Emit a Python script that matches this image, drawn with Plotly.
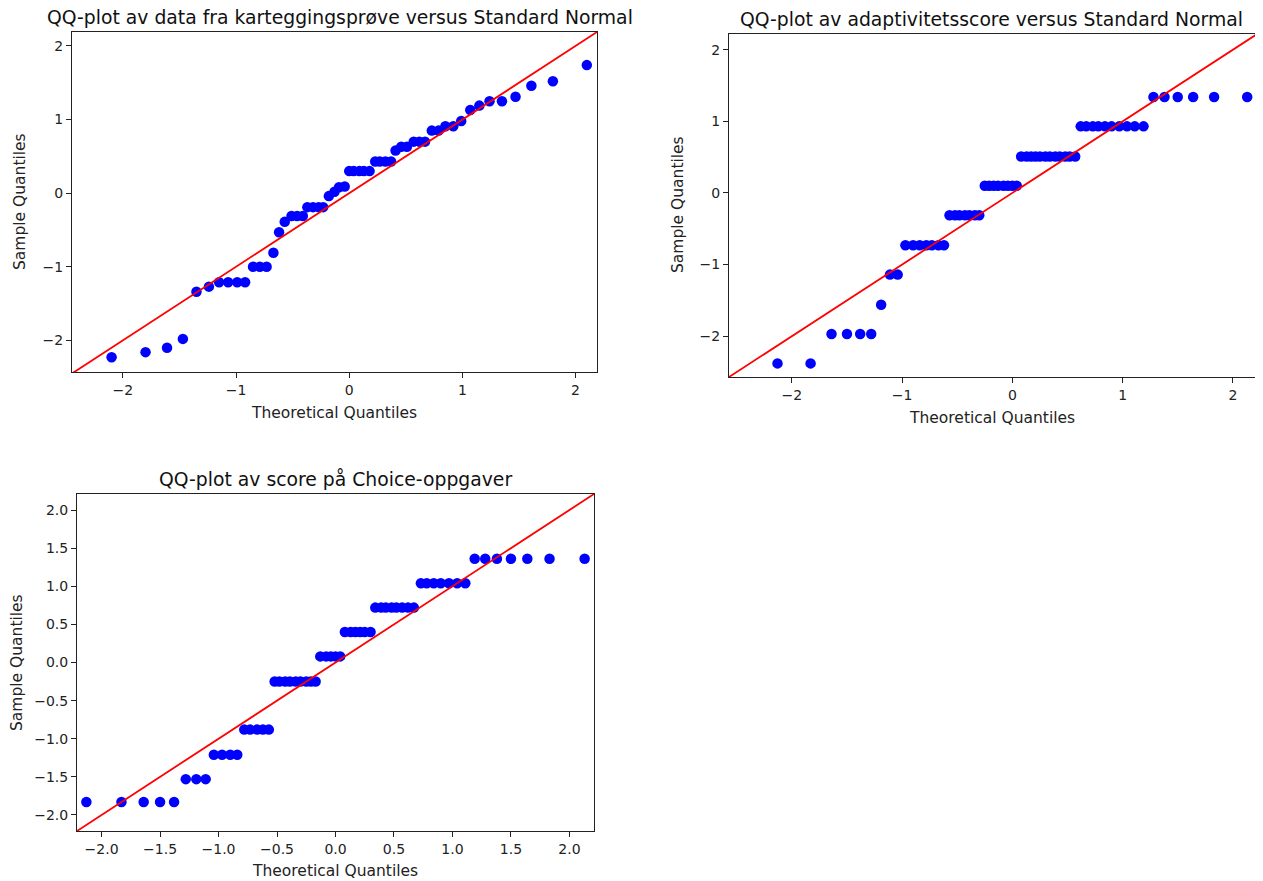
import plotly.graph_objects as go

# ---------------- data ----------------
titles = [
    "QQ-plot av data fra karteggingsprøve versus Standard Normal",
    "QQ-plot av adaptivitetsscore versus Standard Normal",
    "QQ-plot av score på Choice-oppgaver",
]
x_label = "Theoretical Quantiles"
y_label = "Sample Quantiles"

# theoretical quantiles, plot 1 (55 points)
theo_55 = [-2.10, -1.80, -1.61, -1.47, -1.35, -1.24, -1.15, -1.07, -0.99, -0.92,
           -0.85, -0.79, -0.73, -0.67, -0.62, -0.57, -0.51, -0.46, -0.41, -0.37,
           -0.32, -0.27, -0.23, -0.18, -0.13, -0.09, -0.04, 0.00, 0.04, 0.09,
           0.13, 0.18, 0.23, 0.27, 0.32, 0.37, 0.41, 0.46, 0.51, 0.57,
           0.62, 0.67, 0.73, 0.79, 0.85, 0.92, 0.99, 1.07, 1.15, 1.24,
           1.35, 1.47, 1.61, 1.80, 2.10]
sample_1 = [-2.23, -2.16, -2.10, -1.98, -1.34, -1.27, -1.21, -1.21, -1.21, -1.21,
            -1.00, -1.00, -1.00, -0.81, -0.53, -0.39, -0.31, -0.31, -0.31, -0.19,
            -0.19, -0.19, -0.19, -0.04, 0.02, 0.08, 0.09, 0.30, 0.30, 0.30,
            0.30, 0.30, 0.43, 0.43, 0.43, 0.43, 0.58, 0.63, 0.63, 0.70,
            0.70, 0.70, 0.85, 0.85, 0.91, 0.91, 0.98, 1.13, 1.19, 1.25,
            1.25, 1.31, 1.46, 1.52, 1.74]

# theoretical quantiles, plots 2 and 3 (59 points)
theo_59 = [-2.13, -1.83, -1.64, -1.50, -1.38, -1.28, -1.19, -1.11, -1.04, -0.97,
           -0.90, -0.84, -0.78, -0.73, -0.67, -0.62, -0.57, -0.52, -0.48, -0.43,
           -0.39, -0.34, -0.30, -0.25, -0.21, -0.17, -0.13, -0.08, -0.04, 0.00,
           0.04, 0.08, 0.13, 0.17, 0.21, 0.25, 0.30, 0.34, 0.39, 0.43,
           0.48, 0.52, 0.57, 0.62, 0.67, 0.73, 0.78, 0.84, 0.90, 0.97,
           1.04, 1.11, 1.19, 1.28, 1.38, 1.50, 1.64, 1.83, 2.13]
sample_2 = [-2.38, -2.38,
            -1.97, -1.97, -1.97, -1.97,
            -1.56,
            -1.14, -1.14,
            -0.73, -0.73, -0.73, -0.73, -0.73, -0.73, -0.73,
            -0.31, -0.31, -0.31, -0.31, -0.31, -0.31, -0.31,
            0.10, 0.10, 0.10, 0.10, 0.10, 0.10, 0.10, 0.10,
            0.51, 0.51, 0.51, 0.51, 0.51, 0.51, 0.51, 0.51, 0.51, 0.51, 0.51, 0.51,
            0.93, 0.93, 0.93, 0.93, 0.93, 0.93, 0.93, 0.93, 0.93, 0.93,
            1.34, 1.34, 1.34, 1.34, 1.34, 1.34]
sample_3 = [-1.83, -1.83, -1.83, -1.83, -1.83,
            -1.53, -1.53, -1.53,
            -1.21, -1.21, -1.21, -1.21,
            -0.88, -0.88, -0.88, -0.88, -0.88,
            -0.25, -0.25, -0.25, -0.25, -0.25, -0.25, -0.25, -0.25, -0.25,
            0.08, 0.08, 0.08, 0.08, 0.08,
            0.40, 0.40, 0.40, 0.40, 0.40, 0.40,
            0.72, 0.72, 0.72, 0.72, 0.72, 0.72, 0.72, 0.72,
            1.04, 1.04, 1.04, 1.04, 1.04, 1.04, 1.04,
            1.36, 1.36, 1.36, 1.36, 1.36, 1.36, 1.36]

# axis ranges
x_range_1 = [-2.45, 2.19]
y_range_1 = [-2.43, 2.19]
x_range_2 = [-2.57, 2.21]
y_range_2 = [-2.57, 2.22]
x_range_3 = [-2.21, 2.21]
y_range_3 = [-2.21, 2.21]

tick_int = [-2, -1, 0, 1, 2]
tick_half = [-2.0, -1.5, -1.0, -0.5, 0.0, 0.5, 1.0, 1.5, 2.0]

# ---------------- layout (pixels of the screen; page body has 8px margin) ----------------
OFF = 8
W, H = 1263 - OFF, 881 - OFF
FONT = "DejaVu Sans, sans-serif"
panels = [
    dict(xd=(72, 597), yd=(32, 372), x=theo_55, y=sample_1, xr=x_range_1, yr=y_range_1,
         xt=tick_int, yt=tick_int, fmt="d", title_xy=(340, 18), xl_xy=(334, 413), yl_xy=(20, 202)),
    dict(xd=(729, 1256), yd=(34, 377), x=theo_59, y=sample_2, xr=x_range_2, yr=y_range_2,
         xt=tick_int, yt=tick_int, fmt="d", title_xy=(992, 20), xl_xy=(992, 418), yl_xy=(678, 205)),
    dict(xd=(77, 594), yd=(494, 831), x=theo_59, y=sample_3, xr=x_range_3, yr=y_range_3,
         xt=tick_half, yt=tick_half, fmt=".1f", title_xy=(335, 479), xl_xy=(335, 871), yl_xy=(17, 663)),
]


def px(x):
    return (x - OFF) / W


def py(y):
    return 1 - (y - OFF) / H


fig = go.Figure()
annotations = []
for i, p in enumerate(panels):
    n = "" if i == 0 else str(i + 1)
    xa, ya = "x" + n, "y" + n
    fig.add_trace(go.Scatter(x=p["x"], y=p["y"], mode="markers", xaxis=xa, yaxis=ya,
                             marker=dict(color="#0000ff", size=10.5, line=dict(width=0)),
                             showlegend=False, hoverinfo="x+y"))
    lo = min(p["xr"][0], p["yr"][0]) - 0.5
    hi = max(p["xr"][1], p["yr"][1]) + 0.5
    fig.add_trace(go.Scatter(x=[lo, hi], y=[lo, hi], mode="lines", xaxis=xa, yaxis=ya,
                             line=dict(color="#ff0000", width=1.8), showlegend=False,
                             hoverinfo="skip"))
    axis_common = dict(showgrid=False, zeroline=False, showline=True, mirror=True,
                       linecolor="#222222", linewidth=1, ticks="outside", ticklen=5,
                       tickwidth=1, tickcolor="#222222",
                       tickfont=dict(family=FONT, size=14, color="#222222"),
                       tickformat=p["fmt"], tickmode="array")
    fig.layout["xaxis" + n] = dict(axis_common, domain=[px(p["xd"][0]), px(p["xd"][1])],
                                   range=p["xr"], tickvals=p["xt"], anchor=ya)
    fig.layout["yaxis" + n] = dict(axis_common, domain=[py(p["yd"][1]), py(p["yd"][0])],
                                   range=p["yr"], tickvals=p["yt"], anchor=xa)
    tx, ty = p["title_xy"]
    annotations.append(dict(text=titles[i], x=px(tx), y=py(ty), xref="paper", yref="paper",
                            xanchor="center", yanchor="middle", showarrow=False,
                            font=dict(family=FONT, size=18.8, color="#111111")))
    lx, ly = p["xl_xy"]
    annotations.append(dict(text=x_label, x=px(lx), y=py(ly), xref="paper", yref="paper",
                            xanchor="center", yanchor="middle", showarrow=False,
                            font=dict(family=FONT, size=15.5, color="#222222")))
    vx, vy = p["yl_xy"]
    annotations.append(dict(text=y_label, x=px(vx), y=py(vy), xref="paper", yref="paper",
                            xanchor="center", yanchor="middle", showarrow=False, textangle=-90,
                            font=dict(family=FONT, size=15.5, color="#222222")))

fig.update_layout(width=W, height=H, margin=dict(l=0, r=0, t=0, b=0),
                  paper_bgcolor="white", plot_bgcolor="white", annotations=annotations,
                  showlegend=False)

fig.write_html("out.html")
